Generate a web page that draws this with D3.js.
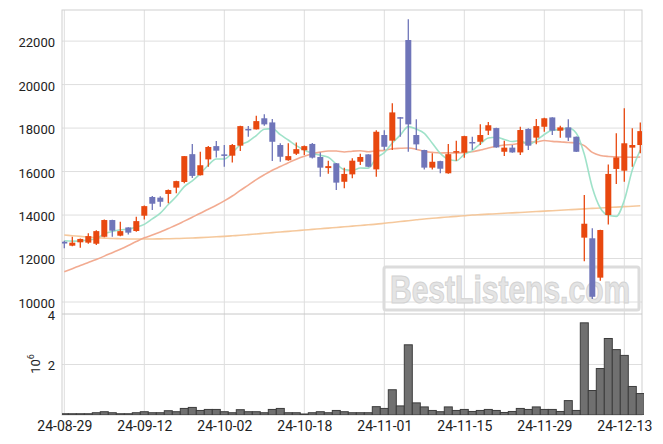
<!DOCTYPE html>
<html><head><meta charset="utf-8">
<script src="https://cdn.jsdelivr.net/npm/d3@7/dist/d3.min.js"></script>
<style>body{margin:0;background:#fff;} svg text{font-family:Roboto,"Liberation Sans",sans-serif;}</style>
</head><body><svg id="c" width="663" height="444"></svg>
<script>
const dates = ["24-08-29","24-08-30","24-09-02","24-09-03","24-09-04","24-09-05","24-09-06","24-09-09","24-09-10","24-09-11",
"24-09-12","24-09-13","24-09-19","24-09-20","24-09-23","24-09-24","24-09-25","24-09-26","24-09-27","24-09-30",
"24-10-02","24-10-04","24-10-07","24-10-08","24-10-10","24-10-11","24-10-14","24-10-15","24-10-16","24-10-17",
"24-10-18","24-10-21","24-10-22","24-10-23","24-10-24","24-10-25","24-10-28","24-10-29","24-10-30","24-10-31",
"24-11-01","24-11-04","24-11-05","24-11-06","24-11-07","24-11-08","24-11-11","24-11-12","24-11-13","24-11-14",
"24-11-15","24-11-18","24-11-19","24-11-20","24-11-21","24-11-22","24-11-25","24-11-26","24-11-27","24-11-28",
"24-11-29","24-12-02","24-12-03","24-12-04","24-12-05","24-12-06","24-12-09","24-12-10","24-12-11","24-12-12",
"24-12-13","24-12-16","24-12-17"];
const open = [12770,12590,12745,12730,12680,13000,13770,13050,13430,13265,
13970,14830,14800,14970,15260,15520,16800,15830,16560,17170,
16790,16730,17190,17960,17940,18450,18260,17220,16520,16820,
16980,17270,16670,16160,16380,15530,15870,16450,16790,16100,
17680,17420,18500,22050,17680,16990,16180,16480,15920,16870,
16870,17360,17370,17880,18000,16910,17100,16880,17960,17560,
18060,18490,17880,18030,17600,12960,12930,11120,14000,16120,
16040,17100,17220];
const high = [12820,13000,12920,13160,13300,13790,13780,13690,13440,13920,
14440,14870,14860,15180,15580,16720,17270,16910,17170,17400,
17220,17270,18110,18090,18570,18630,18420,17300,17300,17340,
17200,17310,16880,16500,16390,16180,16610,16820,16800,17900,
17900,19140,18510,23000,18400,17000,16840,16500,17270,17420,
17650,17600,18170,18280,18010,17420,17220,18060,17990,18420,
18470,18500,18110,18400,17610,14920,13390,13320,16330,17760,
18910,17990,18260];
const low = [12470,12560,12500,12680,12620,12980,13000,13020,13110,13230,
13800,14230,14380,14540,15000,15460,15700,15820,16220,16650,
16220,16420,16940,17600,17930,18110,16480,16450,16500,16760,
16760,16600,15760,15900,15150,15230,15690,16300,16200,15760,
16990,16990,17600,16910,16990,16100,16100,15920,15900,16500,
16640,16990,17220,17680,17100,16710,16870,16760,16990,17250,
17830,17680,17560,17400,16900,11880,10140,10980,13570,15430,
15530,16220,16840];
const close = [12690,12730,12900,13030,13260,13770,13280,13260,13190,13720,
14410,14520,14610,15150,15560,16710,15800,16290,17130,16960,
16720,17220,18090,17930,18320,18170,17370,16680,16710,17030,
17170,16640,16180,16250,15490,15890,16500,16670,16220,17830,
17140,18720,18480,18170,17250,16180,16450,16130,16800,16940,
17630,17330,17680,18130,17110,17100,16880,17910,17190,18090,
18450,17880,18030,17560,16910,13600,10240,13310,15890,16650,
17300,17220,17860];
// volume in millions of shares
const volume = [0.05,0.05,0.05,0.05,0.09,0.13,0.09,0.05,0.05,0.09,
0.13,0.09,0.09,0.17,0.13,0.26,0.30,0.18,0.22,0.22,
0.13,0.09,0.21,0.13,0.13,0.09,0.22,0.26,0.09,0.09,
0.04,0.09,0.13,0.09,0.18,0.13,0.09,0.09,0.09,0.33,
0.26,1.00,0.36,2.78,0.48,0.32,0.18,0.13,0.32,0.18,
0.22,0.14,0.18,0.22,0.18,0.10,0.14,0.26,0.22,0.32,
0.22,0.22,0.14,0.57,0.18,3.65,0.97,1.84,3.03,2.59,
2.36,1.13,0.85];
const ma5 = [12820,12800,12810,12850,12922,13138,13248,13320,13352,13444,
13572,13820,14090,14482,14850,15310,15566,15902,16298,16578,
16580,16864,17224,17384,17656,17946,17976,17694,17450,17192,
16992,16846,16746,16654,16346,16090,16062,16160,16154,16622,
16872,17316,17678,18068,17952,17760,17306,16836,16562,16500,
16790,16966,17276,17542,17576,17470,17380,17426,17238,17434,
17704,17904,17928,18002,17766,16796,15268,14324,13990,13938,
14678,16074,16984];
const ma20 = [11390,11530,11680,11820,11960,12110,12270,12430,12600,12780,
12950,13080,13220,13380,13540,13720,13900,14080,14270,14449,
14650,14875,15134,15379,15632,15852,16057,16228,16404,16569,
16707,16813,16892,16947,16943,16902,16937,16956,16911,16954,
16975,17050,17070,17082,17028,16929,16883,16855,16860,16855,
16878,16913,16988,17082,17163,17223,17242,17304,17353,17366,
17431,17389,17367,17336,17319,17190,16880,16739,16693,16679,
16662,16657,16666];
const ma120 = [13080,13050,13020,12990,12960,12940,12920,12910,12900,12900,
12900,12900,12905,12910,12920,12930,12945,12960,12980,13000,
13020,13045,13070,13100,13130,13160,13190,13220,13250,13280,
13310,13340,13370,13400,13430,13460,13490,13520,13550,13580,
13620,13660,13700,13740,13780,13820,13850,13880,13910,13940,
13970,14000,14020,14040,14060,14080,14100,14120,14140,14160,
14180,14200,14220,14240,14260,14285,14305,14325,14345,14365,
14385,14405,14425];
const priceTicks = [10000,12000,14000,16000,18000,20000,22000];
const volTicks = [2,4];
const dateTickIdx = [0,10,20,30,40,50,60,70];

const upColor = "#e8480f", downColor = "#6f75b9";
const svg = d3.select("#c");
const L = 62, R = 642, T = 10, MB = 314, VB = 415;
const x = d3.scaleLinear().domain([0, dates.length - 1]).range([64.3, 640.3]);
const y = d3.scaleLinear().domain([10000, 22000]).range([302, 41.1]);
const yv = d3.scaleLinear().domain([0, 4]).range([VB, MB]);
const step = x(1) - x(0);

const defs = svg.append("defs");
defs.append("clipPath").attr("id","cm").append("rect").attr("x",L).attr("y",T).attr("width",R-L).attr("height",MB-T);
defs.append("clipPath").attr("id","cv").append("rect").attr("x",L).attr("y",MB).attr("width",R-L+2).attr("height",VB-MB);

// grid
const grid = svg.append("g");
grid.selectAll(".hg").data(priceTicks).join("line")
  .attr("x1",L).attr("x2",R).attr("y1",d=>y(d)).attr("y2",d=>y(d))
  .attr("stroke","#dedede").attr("stroke-width",1);
grid.selectAll(".vg").data(dateTickIdx).join("line")
  .attr("x1",d=>x(d)).attr("x2",d=>x(d)).attr("y1",T).attr("y2",VB)
  .attr("stroke","#dedede").attr("stroke-width",1);
grid.append("line").attr("x1",L).attr("x2",R).attr("y1",yv(2)).attr("y2",yv(2)).attr("stroke","#dedede");

// watermark
const wm = svg.append("g");
wm.append("rect").attr("x",384).attr("y",267).attr("width",255).attr("height",43).attr("rx",2)
  .attr("fill","none").attr("stroke","#dcdcdc").attr("stroke-width",3);
wm.append("text").attr("transform","translate(390,303) scale(0.79,1)").text("BestListens.com")
  .attr("font-size",38).attr("font-weight","bold")
  .attr("fill","#e4e4e4").attr("stroke","#d2d2d2").attr("stroke-width",1)
  .style("font-family","'Liberation Sans',Arial,sans-serif");

// frame
svg.append("rect").attr("x",L).attr("y",T).attr("width",R-L).attr("height",VB-T)
  .attr("fill","none").attr("stroke","#cfcfcf");
svg.append("line").attr("x1",L).attr("x2",R).attr("y1",MB).attr("y2",MB).attr("stroke","#c8c8c8");

// moving averages
const main = svg.append("g").attr("clip-path","url(#cm)");
const idx = d3.range(dates.length);
function maLine(arr, color){
  const line = d3.line().x(i=>x(i)).y(i=>y(arr[i])).curve(d3.curveMonotoneX);
  main.append("path").datum(idx).attr("d",line).attr("fill","none")
    .attr("stroke",color).attr("stroke-width",1.6).attr("stroke-opacity",0.9);
}
maLine(ma120, "#f4c291");
maLine(ma20, "#f1a285");
maLine(ma5, "#95dfc3");

// candles
const cg = main.selectAll(".c").data(idx).join("g");
cg.append("line").attr("x1",i=>x(i)).attr("x2",i=>x(i))
  .attr("y1",i=>y(high[i])).attr("y2",i=>y(low[i]))
  .attr("stroke",i=>close[i]>=open[i]?upColor:downColor).attr("stroke-width",1.3);
cg.append("rect").attr("x",i=>x(i)-3).attr("width",6)
  .attr("y",i=>y(Math.max(open[i],close[i])))
  .attr("height",i=>Math.max(1.5, Math.abs(y(open[i])-y(close[i]))))
  .attr("fill",i=>close[i]>=open[i]?upColor:downColor);

// volume
svg.append("g").attr("clip-path","url(#cv)").selectAll("rect").data(idx).join("rect")
  .attr("x",i=>x(i)-step/2).attr("width",step)
  .attr("y",i=>yv(volume[i])).attr("height",i=>yv(0)-yv(volume[i]))
  .attr("fill","#707070").attr("stroke","#3c3c3c").attr("stroke-width",1);

// axes
const ay = svg.append("g").attr("transform",`translate(${L},0)`)
  .call(d3.axisLeft(y).tickValues(priceTicks).tickSize(0).tickPadding(7).tickFormat(d3.format("d")));
const av = svg.append("g").attr("transform",`translate(${L},0)`)
  .call(d3.axisLeft(yv).tickValues(volTicks).tickSize(0).tickPadding(7).tickFormat(d3.format("d")));
const ax = svg.append("g").attr("transform",`translate(0,${VB})`)
  .call(d3.axisBottom(x).tickValues(dateTickIdx).tickSize(0).tickPadding(6).tickFormat(i=>dates[i]));
[ay,av,ax].forEach(g=>{ g.select(".domain").remove();
  g.selectAll("text").attr("fill","#222").style("font-family","Roboto,'Liberation Sans',sans-serif"); });
ay.selectAll("text").attr("font-size",13).attr("dy","0.42em");
av.selectAll("text").attr("font-size",13).attr("dy","0.4em");
ax.selectAll("text").attr("font-size",14);

// 10^6 unit label
const ul = svg.append("text").attr("transform","translate(40,364) rotate(-90)")
  .attr("text-anchor","middle").attr("font-size",13).attr("fill","#222");
ul.append("tspan").text("10");
ul.append("tspan").text("6").attr("font-size",9).attr("dy",-6);
</script></body></html>
